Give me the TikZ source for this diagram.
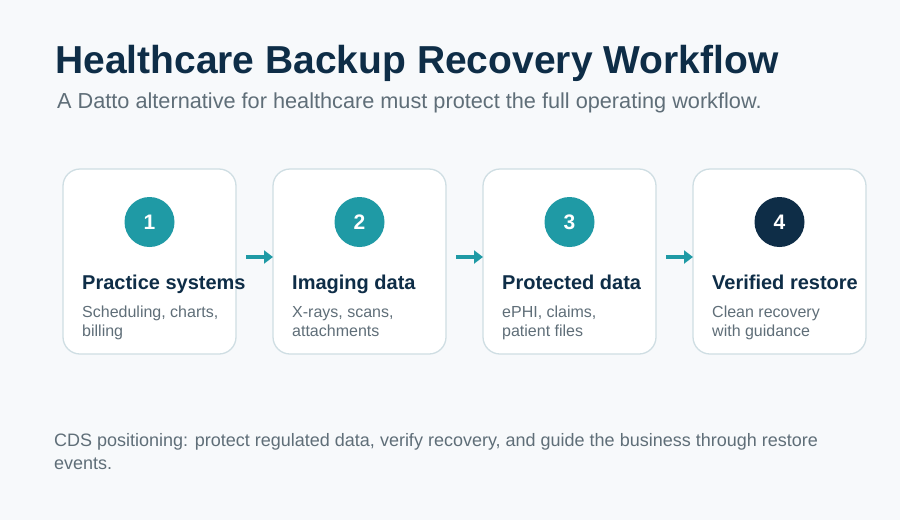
\documentclass[tikz,border=0pt]{standalone}
\usepackage{fontspec}
\setmainfont{Liberation Sans}
\usepackage{xcolor}
\usetikzlibrary{arrows.meta,positioning,calc}
\definecolor{bgpage}{HTML}{F7F9FB}
\definecolor{navy}{HTML}{0E2D47}
\definecolor{slate}{HTML}{5F6E78}
\definecolor{teal}{HTML}{1F9AA5}
\definecolor{edge}{HTML}{CFDEE3}

\begin{document}
\begin{tikzpicture}[x=1pt,y=-1pt,node distance=37pt,
 card/.style={draw=edge,line width=1.3pt,fill=white,rounded corners=17pt,minimum width=173pt,minimum height=185pt,outer sep=0pt},
 badge/.style={circle,fill=teal,minimum size=50pt,inner sep=0pt,text=white,font=\fontsize{21}{24}\selectfont\bfseries},
 head/.style={anchor=base west,inner sep=0pt,text=navy,font=\fontsize{20}{24}\selectfont\bfseries},
 desc/.style={anchor=north west,inner sep=0pt,align=left,text=slate,font=\fontsize{16}{19}\selectfont},
 flow/.style={draw=teal,line width=3.5pt,-{Triangle[length=9pt,width=13pt]}}]
 \useasboundingbox[fill=bgpage] (0,0) rectangle (900,520);
 \node[anchor=base west,inner sep=0pt,text=navy,font=\fontsize{39}{46}\selectfont\bfseries] (title) at (55,73) {Healthcare Backup Recovery Workflow};
 \node[anchor=base west,inner sep=0pt,text=slate,font=\fontsize{21.7}{26}\selectfont] (sub) at (57,108) {A Datto alternative for healthcare must protect the full operating workflow.};
 \node[card,anchor=north west] (c1) at (63,169) {};
 \node[card,right=of c1] (c2) {};
 \node[card,right=of c2] (c3) {};
 \node[card,right=of c3] (c4) {};
 % step badges
 \node[badge] (n1) at ($(c1.north)+(0,53)$) {1};
 \node[badge] (n2) at ($(c2.north)+(0,53)$) {2};
 \node[badge] (n3) at ($(c3.north)+(0,53)$) {3};
 \node[badge,fill=navy] (n4) at ($(c4.north)+(0,53)$) {4};
 % card texts
 \node[head] (h1) at ($(c1.north west)+(19,120)$) {Practice systems};
 \node[head] (h2) at ($(c2.north west)+(19,120)$) {Imaging data};
 \node[head] (h3) at ($(c3.north west)+(19,120)$) {Protected data};
 \node[head] (h4) at ($(c4.north west)+(19,120)$) {Verified restore};
 \node[desc] (d1) at ($(c1.north west)+(19,137)$) {Scheduling, charts,\\billing};
 \node[desc] (d2) at ($(c2.north west)+(19,137)$) {X-rays, scans,\\attachments};
 \node[desc] (d3) at ($(c3.north west)+(19,137)$) {ePHI, claims,\\patient files};
 \node[desc] (d4) at ($(c4.north west)+(19,137)$) {Clean recovery\\with guidance};
 \draw[flow] ([xshift=10pt,yshift=4.5pt]c1.east) -- ([yshift=4.5pt]c2.west);
 \draw[flow] ([xshift=10pt,yshift=4.5pt]c2.east) -- ([yshift=4.5pt]c3.west);
 \draw[flow] ([xshift=10pt,yshift=4.5pt]c3.east) -- ([yshift=4.5pt]c4.west);
 \node[anchor=north west,inner sep=0pt,align=left,text=slate,font=\fontsize{18}{23}\selectfont] (foot) at (54,433) {CDS positioning: protect regulated data, verify recovery, and guide the business through restore\\events.};
\end{tikzpicture}
\end{document}
